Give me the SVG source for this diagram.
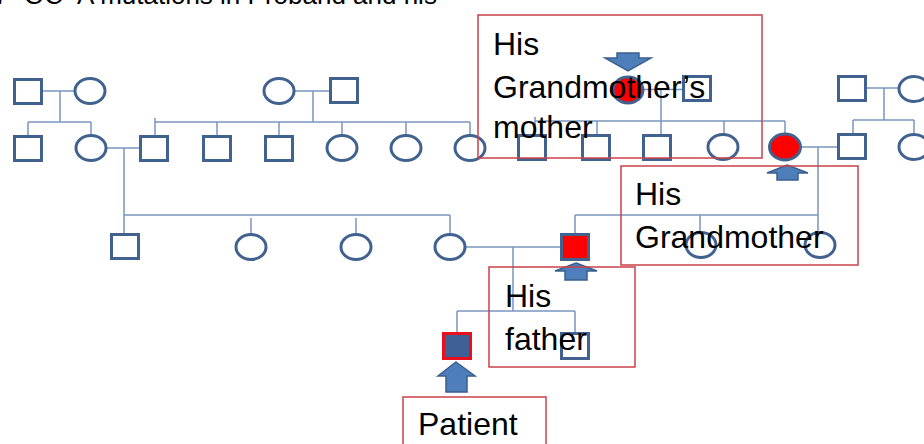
<svg xmlns="http://www.w3.org/2000/svg" width="924" height="444" viewBox="0 0 924 444">
<style>
.n{fill:#fff;stroke:#41618f;stroke-width:3}
.red{fill:#ff0000;stroke:#41618f;stroke-width:3}
.pat{fill:#3f6096;stroke:#e8101c;stroke-width:3}
.c line{stroke:#7896be;stroke-width:1.5}
.arr{fill:#4f7fbb;stroke:#3b5f8e;stroke-width:1.5}
.box{fill:none;stroke:#c9424a;stroke-width:1.5}
.lbl{font-family:"Liberation Sans",Arial,sans-serif;font-size:32px;fill:#000}
.ttl{font-family:"Liberation Sans",Arial,sans-serif;font-size:26px;fill:#000}
</style>
<rect width="924" height="444" fill="#fff"/>
<text class="ttl" y="4"><tspan x="-6">7</tspan><tspan x="24">OC</tspan><tspan x="77">A mutations in Proband and his</tspan></text>
<g id="connectors" class="c">
<line x1="43" y1="91" x2="75" y2="91"/><line x1="60" y1="91" x2="60" y2="122"/>
<line x1="28" y1="122" x2="91" y2="122"/><line x1="28" y1="122" x2="28" y2="135"/><line x1="91" y1="122" x2="91" y2="135.5"/>
<line x1="294" y1="91" x2="329" y2="91"/><line x1="313" y1="91" x2="313" y2="122"/>
<line x1="155" y1="122" x2="470" y2="122"/>
<line x1="155" y1="118" x2="155" y2="135"/><line x1="217" y1="122" x2="217" y2="135"/><line x1="279" y1="122" x2="279" y2="135"/>
<line x1="342" y1="122" x2="342" y2="135.5"/><line x1="406" y1="122" x2="406" y2="135.5"/><line x1="470" y1="122" x2="470" y2="135.5"/>
<line x1="643" y1="89.5" x2="682" y2="89.5"/><line x1="661" y1="89.5" x2="661" y2="134"/>
<line x1="535" y1="121" x2="785" y2="121"/>
<line x1="535" y1="117" x2="535" y2="134"/><line x1="597" y1="121" x2="597" y2="134"/><line x1="724" y1="121" x2="724" y2="134"/><line x1="785" y1="121" x2="785" y2="134"/>
<line x1="867" y1="88" x2="899" y2="88"/><line x1="884" y1="88" x2="884" y2="120"/>
<line x1="853" y1="120" x2="914" y2="120"/><line x1="853" y1="120" x2="853" y2="133"/><line x1="914" y1="120" x2="914" y2="134"/>
<line x1="106" y1="148" x2="140" y2="148"/><line x1="124" y1="148" x2="124" y2="233"/>
<line x1="124" y1="215" x2="450" y2="215"/>
<line x1="251" y1="218" x2="251" y2="234"/><line x1="356" y1="218" x2="356" y2="234"/><line x1="450" y1="215" x2="450" y2="234"/>
<line x1="800" y1="147" x2="838" y2="147"/><line x1="818" y1="147" x2="818" y2="232"/>
<line x1="575" y1="215" x2="818" y2="215"/><line x1="575" y1="215" x2="575" y2="233"/><line x1="700" y1="215" x2="700" y2="232"/>
<line x1="465" y1="247" x2="560" y2="247"/><line x1="513" y1="247" x2="513" y2="311"/>
<line x1="457" y1="311" x2="575" y2="311"/><line x1="457" y1="311" x2="457" y2="333"/><line x1="575" y1="311" x2="575" y2="333"/>
</g>
<g id="n-r1-1"><rect class="n" x="14.5" y="79.5" width="27" height="24"/></g>
<g id="n-r1-2"><ellipse class="n" cx="90" cy="91" rx="15" ry="12.5"/></g>
<g id="n-r1-3"><ellipse class="n" cx="279" cy="91" rx="15" ry="12.5"/></g>
<g id="n-r1-4"><rect class="n" x="330.5" y="78.5" width="27" height="24"/></g>
<g id="n-r1-5"><ellipse class="red" cx="628" cy="90" rx="15" ry="13"/></g>
<g id="n-r1-6"><rect class="n" x="683.5" y="76.5" width="27" height="24"/></g>
<g id="n-r1-7"><rect class="n" x="838.5" y="76.5" width="27" height="24"/></g>
<g id="n-r1-8"><ellipse class="n" cx="914" cy="89" rx="15" ry="12.5"/></g>
<g id="n-r2-1"><rect class="n" x="14.5" y="136.5" width="27" height="24"/></g>
<g id="n-r2-2"><ellipse class="n" cx="91" cy="148" rx="15" ry="12.5"/></g>
<g id="n-r2-3"><rect class="n" x="140.5" y="136.5" width="27" height="24"/></g>
<g id="n-r2-4"><rect class="n" x="203.5" y="136.5" width="27" height="24"/></g>
<g id="n-r2-5"><rect class="n" x="265.5" y="136.5" width="27" height="24"/></g>
<g id="n-r2-6"><ellipse class="n" cx="342" cy="148" rx="15" ry="12.5"/></g>
<g id="n-r2-7"><ellipse class="n" cx="406" cy="148" rx="15" ry="12.5"/></g>
<g id="n-r2-8"><ellipse class="n" cx="470" cy="148" rx="15" ry="12.5"/></g>
<g id="n-r2-9"><rect class="n" x="518.5" y="135.5" width="27" height="24"/></g>
<g id="n-r2-10"><rect class="n" x="582.5" y="135.5" width="27" height="24"/></g>
<g id="n-r2-11"><rect class="n" x="643.5" y="135.5" width="27" height="24"/></g>
<g id="n-r2-12"><ellipse class="n" cx="723" cy="147" rx="15" ry="12.5"/></g>
<g id="n-r2-13"><ellipse class="red" cx="785" cy="147" rx="15.5" ry="13"/></g>
<g id="n-r2-14"><rect class="n" x="838.5" y="134.5" width="27" height="24"/></g>
<g id="n-r2-15"><ellipse class="n" cx="914" cy="147" rx="15" ry="12.5"/></g>
<g id="n-r3-1"><rect class="n" x="111.5" y="234.5" width="27" height="24"/></g>
<g id="n-r3-2"><ellipse class="n" cx="251" cy="247" rx="15" ry="12.5"/></g>
<g id="n-r3-3"><ellipse class="n" cx="356" cy="247" rx="15" ry="12.5"/></g>
<g id="n-r3-4"><ellipse class="n" cx="450" cy="247" rx="15" ry="12.5"/></g>
<g id="n-r3-5"><rect class="red" x="561.5" y="234.5" width="27" height="25"/></g>
<g id="n-r3-6"><ellipse class="n" cx="701" cy="245" rx="15" ry="12.5"/></g>
<g id="n-r3-7"><ellipse class="n" cx="820" cy="245" rx="15" ry="12.5"/></g>
<g id="n-r4-1"><rect class="pat" x="443.5" y="333.5" width="27" height="25"/></g>
<g id="n-r4-2"><rect class="n" x="561.5" y="333.5" width="27" height="25"/></g>
<g id="arrows">
<polygon class="arr" points="617,53 639,53 639,58 651,58 628,71 605,58 617,58"/>
<polygon class="arr" points="787,165 808,173 798,173 798,180 777,180 777,173 767,173"/>
<polygon class="arr" points="576,263 597,271 587,271 587,280 565,280 565,271 555,271"/>
<polygon class="arr" points="456,362 475,376 467,376 467,392 446,392 446,376 438,376"/>
</g>
<g id="label-gm-mother"><rect class="box" x="478" y="15" width="284" height="143"/>
<text class="lbl" x="493" y="55">His</text><text class="lbl" x="493" y="98">Grandmother’s</text><text class="lbl" x="493" y="138">mother</text></g>
<g id="label-gm"><rect class="box" x="621" y="166" width="237" height="99"/>
<text class="lbl" x="635" y="205">His</text><text class="lbl" x="635" y="248">Grandmother</text></g>
<g id="label-father"><rect class="box" x="489" y="267" width="146" height="100"/>
<text class="lbl" x="505" y="307">His</text><text class="lbl" x="505" y="350">father</text></g>
<g id="label-patient"><rect class="box" x="403" y="397" width="143" height="60"/>
<text class="lbl" x="418" y="435">Patient</text></g>
</svg>
